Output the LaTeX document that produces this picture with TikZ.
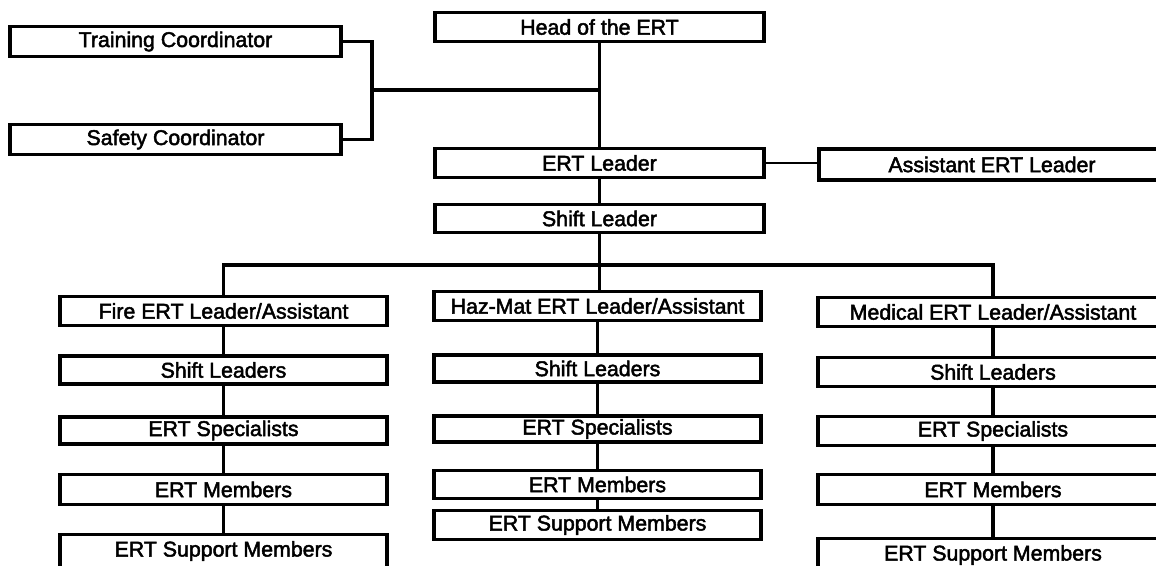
\documentclass[tikz,border=0pt]{standalone}
\usepackage{fontspec}
\setmainfont{Liberation Sans}[FakeBold=2.2]
\begin{document}
\begin{tikzpicture}[x=0.75pt,y=-0.75pt,
  orgbox/.style={draw=black,line width=2.3pt,fill=white,inner sep=0pt,
    font=\fontsize{16}{18}\selectfont,text=black},
  link/.style={draw=black,line width=2.4pt},
  thinlink/.style={draw=black,line width=1.6pt}]
\newcommand{\bx}[6]{\node[orgbox,minimum width={#4*0.75pt},minimum height={#5*0.75pt}] (#1) at (#2,#3) {#6};}
\useasboundingbox (0,0) rectangle (1156,565);
\fill[white] (0,0) rectangle (1156,565);
\clip (0,0) rectangle (1156,565);

% top of the chart
\bx{tc}{175.5}{41.5}{331}{30}{Training Coordinator}
\bx{sc}{175.5}{139.5}{331}{30}{Safety Coordinator}
\bx{head}{599.5}{27}{329}{29}{Head of the ERT}
\bx{erl}{599.5}{163}{329}{29}{ERT Leader}
\bx{asst}{992}{164.5}{346}{31}{Assistant ERT Leader}
\bx{shl}{599.5}{218.5}{329}{28}{Shift Leader}

% fire column
\bx{fire}{223.5}{311}{327}{29}{Fire ERT Leader/Assistant}
\bx{fsl}{223.5}{370}{327}{28}{Shift Leaders}
\bx{fsp}{223.5}{430.5}{327}{27}{ERT Specialists}
\bx{fmem}{223.5}{489.5}{327}{30}{ERT Members}
\bx{fsup}{223.5}{551}{327}{33}{ERT Support Members}

% haz-mat column
\bx{haz}{597.5}{306}{327}{29}{Haz-Mat ERT Leader/Assistant}
\bx{hsl}{597.5}{368.5}{327}{27}{Shift Leaders}
\bx{hsp}{597.5}{429}{327}{26}{ERT Specialists}
\bx{hmem}{597.5}{484.5}{327}{28}{ERT Members}
\bx{hsup}{597.5}{525}{327}{29}{ERT Support Members}

% medical column
\bx{med}{993}{312}{350}{29}{Medical ERT Leader/Assistant}
\bx{msl}{993}{372}{350}{29}{Shift Leaders}
\bx{msp}{993}{431}{350}{29}{ERT Specialists}
\bx{mmem}{993}{489.5}{350}{30}{ERT Members}
\bx{msup}{993}{555}{350}{33}{ERT Support Members}

% junctions
\coordinate (cj) at (372,90);
\coordinate (bus) at (600,265);

% connectors at the top
\draw[link] (tc.east) -| (cj) |- (sc.east);
\draw[link] (cj) -- (cj -| head.south);
\draw[link] (head.south) -- (erl.north);
\draw[link] (erl.south) -- (shl.north);
\draw[thinlink] (erl.east) -- (erl.east -| asst.west);
\draw[link] (shl.south) -- (shl.south |- haz.north);
\draw[link] (fire.north) |- (bus) -| (med.north);

% connectors inside the columns
\foreach \a/\b in {fire/fsl,fsl/fsp,fsp/fmem,fmem/fsup,
                   haz/hsl,hsl/hsp,hsp/hmem,hmem/hsup,
                   med/msl,msl/msp,msp/mmem,mmem/msup}
  \draw[link] (\a.south) -- (\b.north);
\end{tikzpicture}
\end{document}
